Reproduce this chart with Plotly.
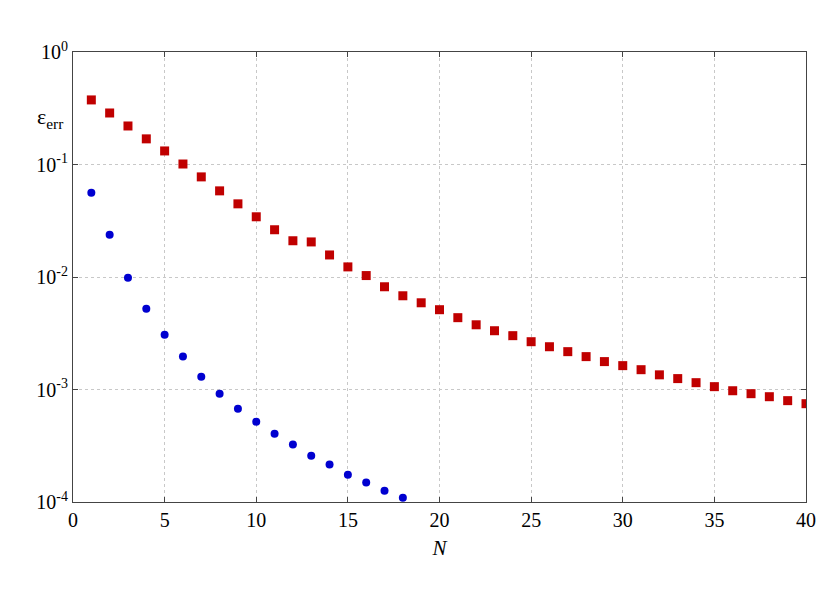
import plotly.graph_objects as go

n_red = list(range(1, 41))
err_red = [0.375, 0.287, 0.220, 0.169, 0.132, 0.101, 0.0776, 0.0583, 0.0447, 0.0343,
           0.0263, 0.0210, 0.0205, 0.0157, 0.0123, 0.0103, 0.00819, 0.00681, 0.00590, 0.00512,
           0.00435, 0.00376, 0.00333, 0.00301, 0.00266, 0.00240, 0.00217, 0.00196, 0.00177, 0.00163,
           0.00150, 0.00135, 0.00125, 0.00115, 0.00106, 0.000975, 0.000918, 0.000863, 0.000796, 0.000748]

n_blue = list(range(1, 19))
err_blue = [0.0560, 0.0237, 0.00984, 0.00522, 0.00307, 0.00196, 0.00130, 0.000918, 0.000675,
            0.000517, 0.000405, 0.000324, 0.000258, 0.000215, 0.000175, 0.000149, 0.000126, 0.000109]

y_ticks = [1, 0.1, 0.01, 0.001, 0.0001]
y_labels = ["10<sup>0</sup>", "10<sup>-1</sup>", "10<sup>-2</sup>", "10<sup>-3</sup>", "10<sup>-4</sup>"]
x_ticks = [0, 5, 10, 15, 20, 25, 30, 35, 40]

fig = go.Figure()
fig.add_trace(go.Scatter(x=n_red, y=err_red, mode="markers",
                         marker=dict(symbol="square", size=9, color="#c00000")))
fig.add_trace(go.Scatter(x=n_blue, y=err_blue, mode="markers",
                         marker=dict(symbol="circle", size=8, color="#0000d0")))

axis_common = dict(showline=True, linecolor="#444", linewidth=1, mirror="ticks",
                   ticks="inside", ticklen=5, tickcolor="#444",
                   showgrid=True, gridcolor="#c8c8c8", griddash="dot", gridwidth=1,
                   zeroline=False, tickfont=dict(size=20, color="black"))

fig.update_xaxes(range=[0, 40], tickvals=x_ticks, **axis_common,
                 title=dict(text="<i>N</i>", font=dict(size=21), standoff=10))
fig.update_yaxes(type="log", range=[-4, 0], tickvals=y_ticks, ticktext=y_labels,
                 **axis_common)

fig.add_annotation(x=0, y=0.89, xref="paper", yref="paper", xanchor="right",
                   text="ε<sub>err</sub>", showarrow=False, xshift=-8,
                   font=dict(size=22, color="black"))

# the page body adds an 8px offset, so the figure is slightly smaller than the window
fig.update_layout(width=822, height=593, showlegend=False,
                  font=dict(family="Liberation Serif", color="black"),
                  plot_bgcolor="white", paper_bgcolor="white",
                  margin=dict(l=65, r=24, t=44, b=99))

fig.write_html("out.html")
